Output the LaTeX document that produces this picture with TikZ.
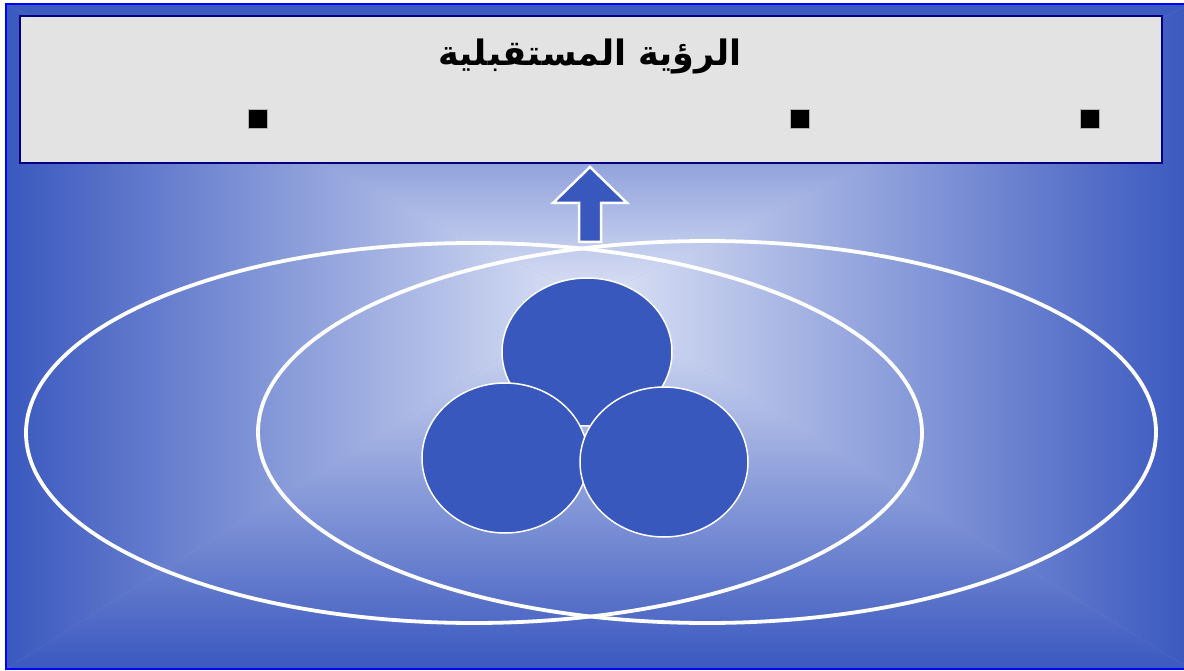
\documentclass[tikz,border=0pt]{standalone}
\usepackage{fontspec}
\TeXXeTstate=1
\newfontfamily\arabicfont[Script=Arabic]{DejaVu Sans}
\definecolor{bgdark}{RGB}{58,88,191}
\definecolor{bglight}{RGB}{222,228,246}
\definecolor{bgmid}{RGB}{148,164,220}
\definecolor{framblue}{RGB}{0,0,255}
\definecolor{navy}{RGB}{0,0,128}
\definecolor{boxgray}{RGB}{227,227,227}
\definecolor{shapeblue}{RGB}{56,88,190}
\tikzset{
  ring/.style={draw=white, line width=3.8pt},
  ball/.style={fill=shapeblue, draw=white, line width=1.5pt},
  bullet/.style={fill=black, minimum width=19pt, minimum height=19pt, inner sep=0pt, draw=gray!60, line width=0.4pt},
  titlebox/.style={fill=boxgray, draw=navy, line width=2pt}
}
\begin{document}
\begin{tikzpicture}[x=1pt,y=-1pt]
\useasboundingbox (0,0) rectangle (1184,671);
\fill[white] (0,0) rectangle (1184,671);
% background gradient (rectangular, from centre)
\coordinate (C) at (592,300);
\fill[bgmid] (6,4) rectangle (1190,669);
\shade[top color=bgdark, bottom color=bglight] (6,4) -- (1190,4) -- (C) -- cycle;
\shade[top color=bglight, bottom color=bgdark] (6,669) -- (1190,669) -- (C) -- cycle;
\shade[left color=bgdark, right color=bglight] (6,4) -- (6,669) -- (C) -- cycle;
\shade[left color=bglight, right color=bgdark] (1190,4) -- (1190,669) -- (C) -- cycle;
\draw[framblue, line width=2pt] (6,4) rectangle (1190,669);
% title box
\draw[titlebox] (20,16) rectangle (1162,163);
\node (title) at (590,56) {\fontsize{35}{42}\selectfont\arabicfont\bfseries\beginR الرؤية المستقبلية\endR};
\node[bullet] (b1) at (258,119) {};
\node[bullet] (b2) at (800,119) {};
\node[bullet] (b3) at (1090,119) {};
% arrow
\draw[fill=shapeblue, draw=white, line width=2.5pt, line join=miter]
  (590,167) -- (627,203) -- (601,203) -- (601,242) -- (579,242) -- (579,203) -- (553,203) -- cycle;
% ellipses
\draw[ring] (474,433) ellipse [x radius=448, y radius=190];
\draw[ring] (707,432) ellipse [x radius=449, y radius=191];
% circles
\draw[ball] (587,352) ellipse [x radius=85, y radius=74];
\draw[ball] (505,458) ellipse [x radius=83, y radius=75];
\draw[ball] (664,462) ellipse [x radius=84, y radius=75];
\end{tikzpicture}
\end{document}
